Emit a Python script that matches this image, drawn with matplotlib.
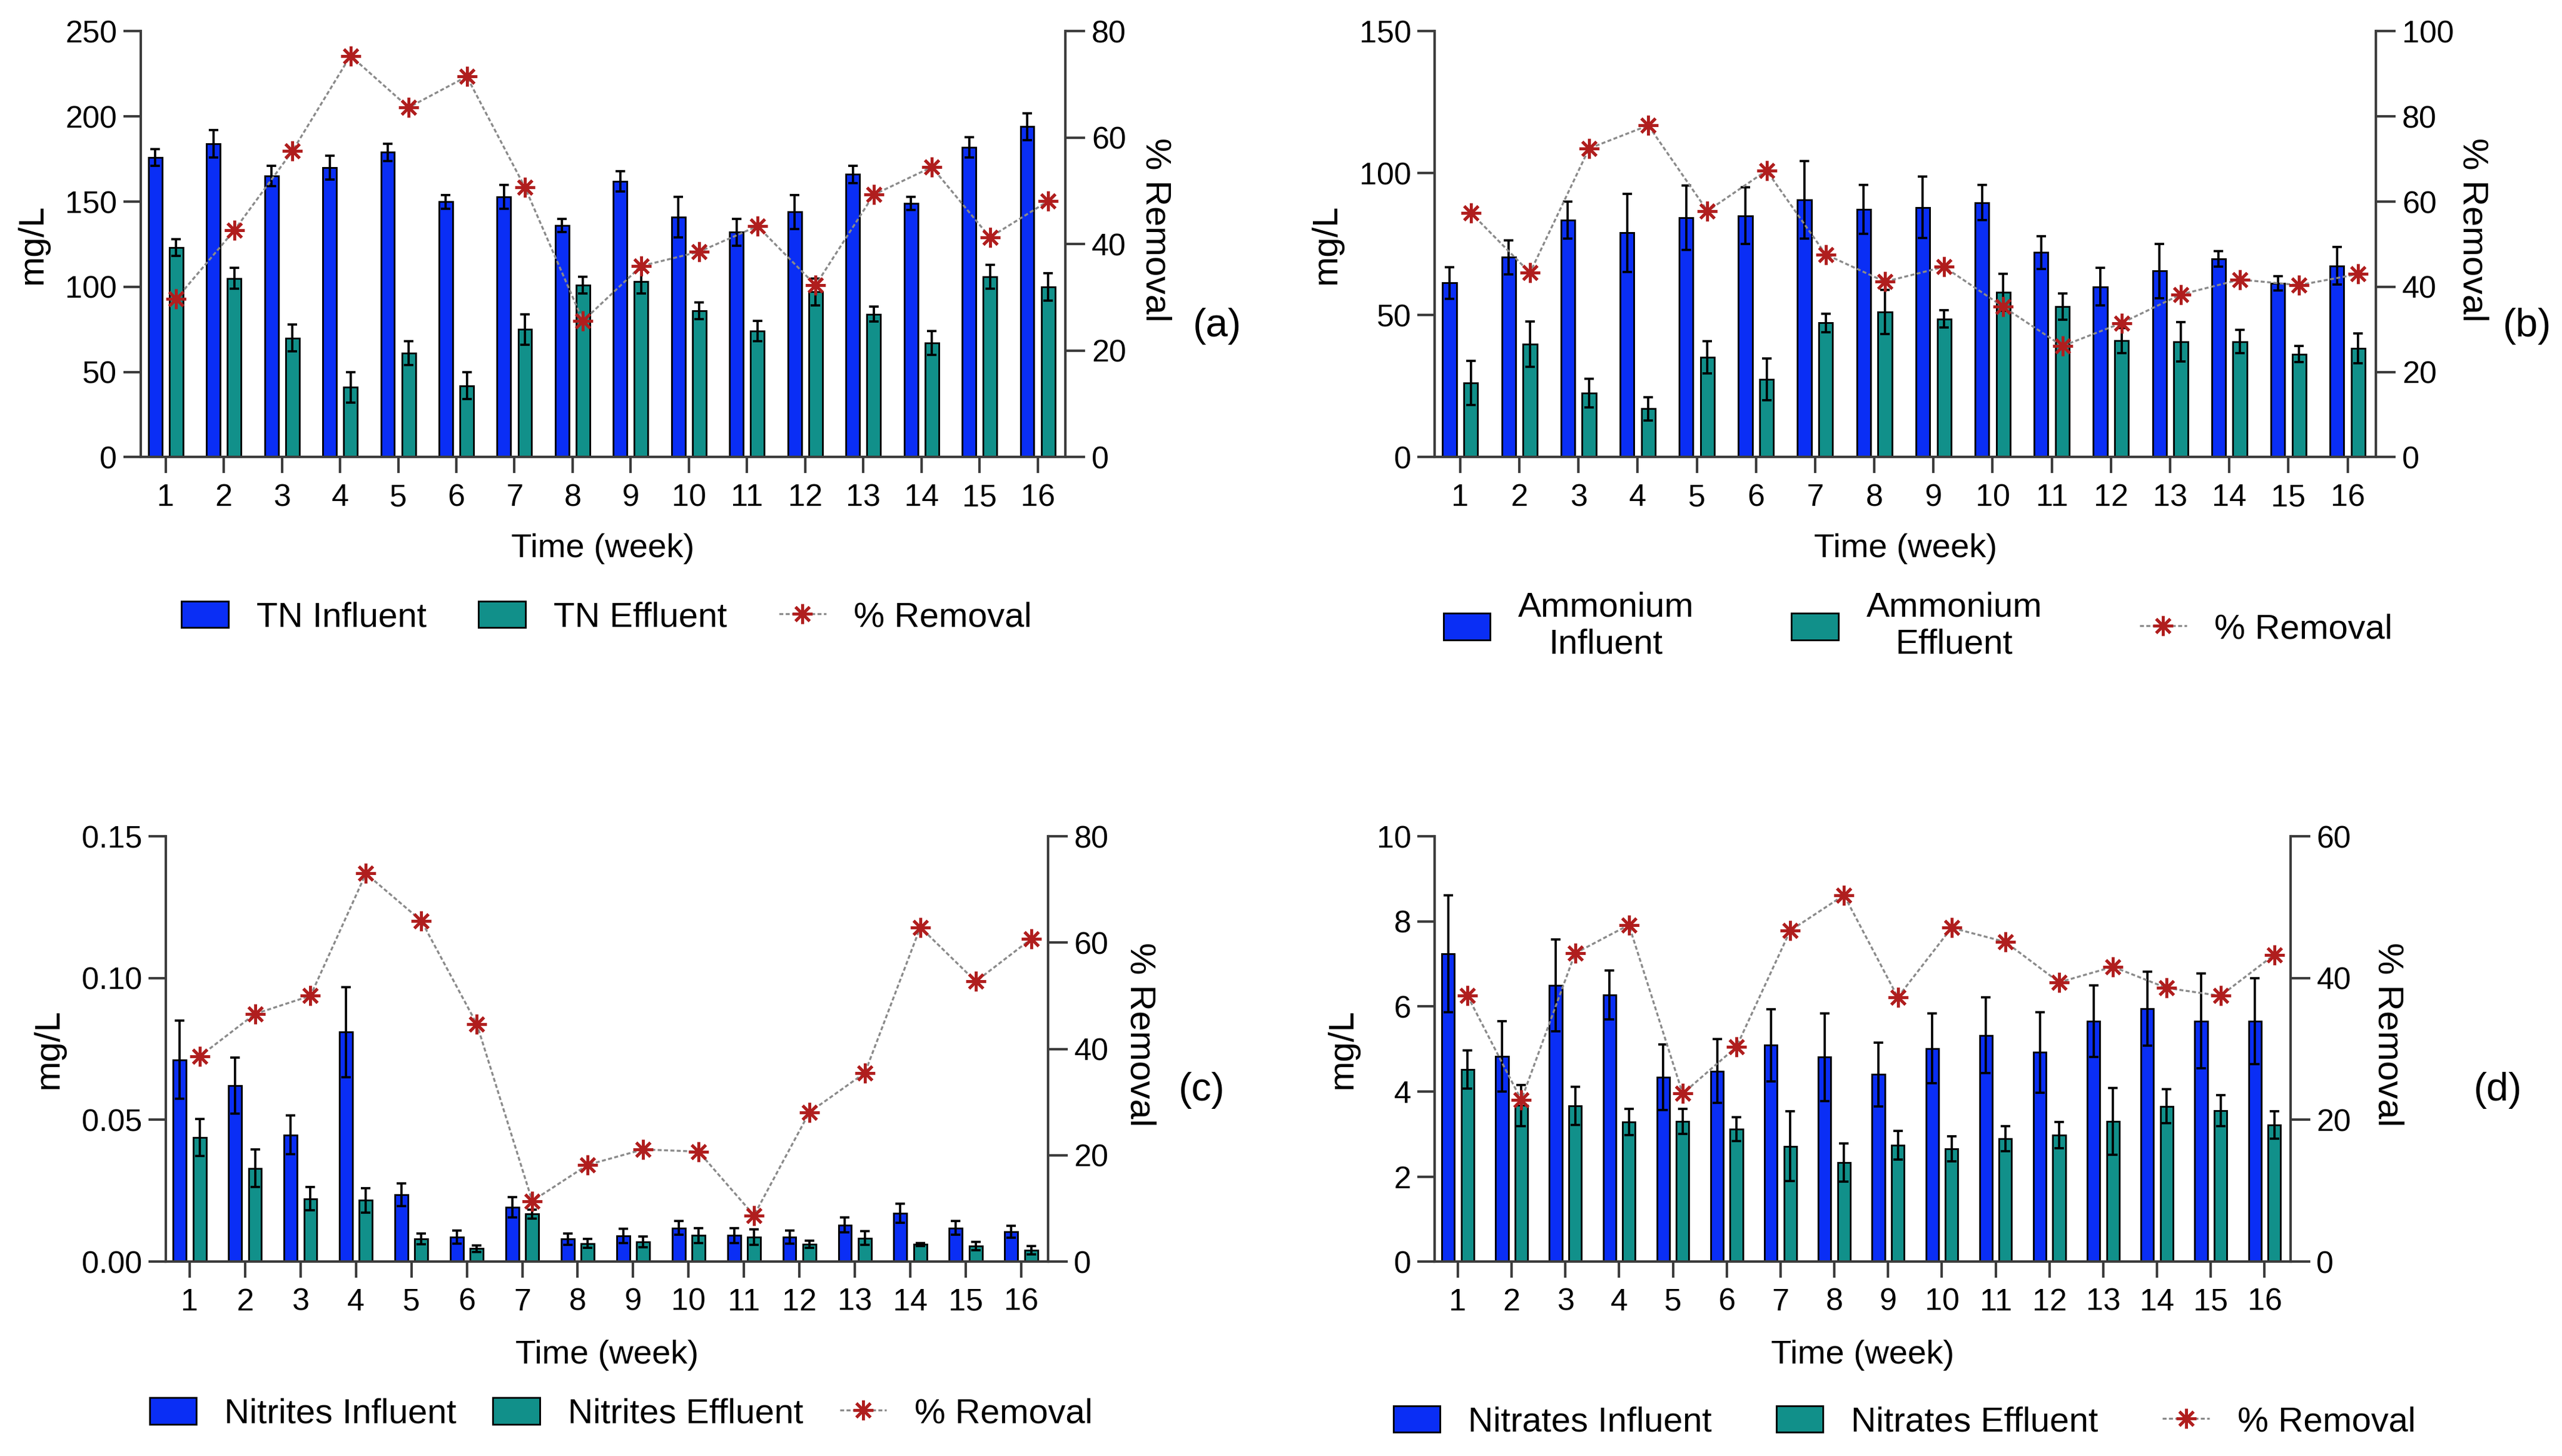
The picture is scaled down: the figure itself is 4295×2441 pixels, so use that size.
import numpy as np
import matplotlib.pyplot as plt

plt.rcParams['font.family'] = ['Liberation Sans', 'DejaVu Sans']

weeks = np.arange(1, 17)

# (a) total nitrogen, mg/L
tn_in = [176, 184, 165, 170, 179, 150, 153, 136, 162, 141, 132, 144, 166, 149, 182, 194]
tn_in_sd = [5, 8, 6, 7, 5, 4, 7, 4, 6, 12, 8, 10, 5, 4, 6, 8]
tn_eff = [123, 105, 70, 41, 61, 42, 75, 101, 103, 86, 74, 97, 84, 67, 106, 100]
tn_eff_sd = [5, 6, 8, 9, 7, 8, 9, 5, 7, 5, 6, 8, 4.5, 7, 7, 8]
tn_rem = [29.7, 42.6, 57.5, 75.4, 65.7, 71.5, 50.7, 25.6, 35.9, 38.6, 43.4, 32.3, 49.3, 54.5, 41.3, 48.1]

# (b) ammonium, mg/L
nh4_in = [61.4, 70.4, 83.5, 79, 84.4, 85, 90.7, 87.3, 88, 89.7, 72.1, 60, 65.6, 69.9, 61.2, 67.4]
nh4_in_sd = [5.6, 6, 6.5, 13.7, 11.3, 10, 13.7, 8.7, 10.8, 6.2, 5.8, 6.6, 9.6, 2.7, 2.5, 6.6]
nh4_eff = [26.1, 39.8, 22.6, 17.1, 35.2, 27.4, 47.3, 51.2, 48.7, 58, 53.1, 41, 40.6, 40.7, 36.3, 38.3]
nh4_eff_sd = [7.8, 8, 5, 4.1, 5.7, 7.3, 3.3, 7.8, 3.1, 6.5, 4.6, 4.4, 6.9, 4.1, 2.9, 5.2]
nh4_rem = [57.4, 43.3, 72.5, 77.9, 57.8, 67.3, 47.6, 41.2, 44.7, 35.3, 26.1, 31.5, 38.2, 41.7, 40.4, 43.0]

# (c) nitrites, mg/L
no2_in = [0.0712, 0.0621, 0.0447, 0.0810, 0.0236, 0.0086, 0.0191, 0.0080,
          0.0090, 0.0119, 0.0092, 0.0086, 0.0129, 0.0170, 0.0119, 0.0106]
no2_in_sd = [0.0138, 0.0098, 0.0069, 0.0159, 0.0040, 0.0023, 0.0036, 0.0020,
             0.0025, 0.0025, 0.0027, 0.0023, 0.0026, 0.0034, 0.0025, 0.0021]
no2_eff = [0.0438, 0.0329, 0.0222, 0.0216, 0.0081, 0.0046, 0.0168, 0.0064,
           0.0070, 0.0092, 0.0086, 0.0061, 0.0083, 0.0061, 0.0055, 0.0040]
no2_eff_sd = [0.0066, 0.0066, 0.0041, 0.0043, 0.0019, 0.0012, 0.0016, 0.0016,
              0.0019, 0.0027, 0.0027, 0.0012, 0.0024, 0.0005, 0.0014, 0.0014]
no2_rem = [38.6, 46.6, 50.0, 73.0, 64.1, 44.7, 11.4, 18.2, 21.1, 20.7, 8.7, 28.1, 35.5, 62.9, 52.7, 60.7]

# (d) nitrates, mg/L
no3_in = [7.24, 4.83, 6.50, 6.27, 4.33, 4.48, 5.09, 4.81, 4.40, 5.01, 5.32, 4.92, 5.65, 5.95, 5.66, 5.66]
no3_in_sd = [1.38, 0.83, 1.08, 0.57, 0.77, 0.75, 0.85, 1.03, 0.75, 0.82, 0.89, 0.95, 0.84, 0.87, 1.11, 1.01]
no3_eff = [4.52, 3.67, 3.66, 3.28, 3.30, 3.11, 2.71, 2.33, 2.74, 2.65, 2.89, 2.97, 3.30, 3.65, 3.55, 3.21]
no3_eff_sd = [0.45, 0.49, 0.45, 0.31, 0.29, 0.28, 0.82, 0.45, 0.34, 0.29, 0.29, 0.31, 0.79, 0.40, 0.36, 0.32]
no3_rem = [37.5, 22.8, 43.5, 47.5, 23.7, 30.3, 46.7, 51.7, 37.3, 47.1, 45.1, 39.4, 41.6, 38.6, 37.5, 43.3]

BLUE = '#0a2ef5'
TEAL = '#11908a'
RED = '#b01e1e'
AXC = '#3c3c3c'

fig = plt.figure(figsize=(4295 / 300, 2441 / 300), dpi=300)


def panel(rect, inf, inf_sd, eff, eff_sd, rem, ylim, rlim, fmt, names,
          letter, letter_xy, ylab_x, rlab_x, xlab_y, leg_xy, colsp):
    ax = fig.add_axes(rect)
    w, off = 0.235, 0.18
    ax.bar(weeks - off, inf, w, color=BLUE, edgecolor='black', linewidth=0.7,
           label=names[0], zorder=2)
    ax.errorbar(weeks - off, inf, yerr=inf_sd, fmt='none', ecolor='black',
                elinewidth=0.9, capsize=2, capthick=0.9, zorder=3)
    ax.bar(weeks + off, eff, w, color=TEAL, edgecolor='black', linewidth=0.7,
           label=names[1], zorder=2)
    ax.errorbar(weeks + off, eff, yerr=eff_sd, fmt='none', ecolor='black',
                elinewidth=0.9, capsize=2, capthick=0.9, zorder=3)

    ax.set_xlim(0.57, 16.48)
    ax.set_ylim(0, ylim[-1])
    ax.set_xticks(weeks)
    ax.set_yticks(ylim)
    ax.set_yticklabels([fmt.format(v) for v in ylim])
    for s in ['top', 'right']:
        ax.spines[s].set_visible(False)
    for s in ['left', 'bottom']:
        ax.spines[s].set_color(AXC)
        ax.spines[s].set_linewidth(1.0)
    ax.tick_params(axis='x', length=6.5, width=1, color=AXC, pad=4, labelsize=12.5)
    ax.tick_params(axis='y', length=7, width=1, color=AXC, pad=2.5, labelsize=12.5)

    ax2 = ax.twinx()
    ax2.plot(weeks + off, rem, color='#8a8a8a', lw=0.8, ls=(0, (2, 1.2)),
             marker=(8, 2, 0), ms=8, mec=RED, mfc=RED, mew=1.2,
             label='% Removal', clip_on=False)
    ax2.set_ylim(0, rlim[-1])
    ax2.set_yticks(rlim)
    for s in ['top', 'left', 'bottom']:
        ax2.spines[s].set_visible(False)
    ax2.spines['right'].set_color(AXC)
    ax2.spines['right'].set_linewidth(1.0)
    ax2.tick_params(axis='y', length=8, width=1, color=AXC, pad=2.5, labelsize=12.5)

    cy = rect[1] + rect[3] / 2
    cx = rect[0] + rect[2] / 2
    fig.text(ylab_x, cy, 'mg/L', rotation=90, ha='center', va='center', fontsize=14.5)
    fig.text(rlab_x, cy + 0.01, '% Removal', rotation=270, ha='center', va='center', fontsize=14.5)
    fig.text(cx, xlab_y, 'Time (week)', ha='center', va='center', fontsize=13.5)
    fig.text(letter_xy[0], letter_xy[1], letter, ha='center', va='center', fontsize=16)

    h1, l1 = ax.get_legend_handles_labels()
    h2, l2 = ax2.get_legend_handles_labels()
    leg = fig.legend(h1 + h2, l1 + l2, loc='center', bbox_to_anchor=leg_xy, ncol=3,
                     frameon=False, fontsize=14, handlelength=1.35, handleheight=0.8,
                     handletextpad=0.8, columnspacing=colsp)
    for t in leg.get_texts():
        t.set_multialignment('center')
    return ax, ax2


panel([0.0549, 0.686, 0.361, 0.2925], tn_in, tn_in_sd, tn_eff, tn_eff_sd, tn_rem,
      [0, 50, 100, 150, 200, 250], [0, 20, 40, 60, 80], '{:.0f}',
      ['TN Influent', 'TN Effluent'], '(a)', (0.475, 0.776),
      0.0128, 0.451, 0.623, (0.2368, 0.576), 1.5)

panel([0.560, 0.686, 0.3674, 0.2925], nh4_in, nh4_in_sd, nh4_eff, nh4_eff_sd, nh4_rem,
      [0, 50, 100, 150], [0, 20, 40, 60, 80, 100], '{:.0f}',
      ['Ammonium\nInfluent', 'Ammonium\nEffluent'], '(b)', (0.9865, 0.776),
      0.5176, 0.965, 0.623, (0.7486, 0.570), 2.8)

panel([0.0647, 0.1335, 0.3443, 0.2921], no2_in, no2_in_sd, no2_eff, no2_eff_sd, no2_rem,
      [0.0, 0.05, 0.10, 0.15], [0, 20, 40, 60, 80], '{:.2f}',
      ['Nitrites Influent', 'Nitrites Effluent'], '(c)', (0.469, 0.251),
      0.019, 0.445, 0.0692, (0.2424, 0.029), 1.05)

panel([0.560, 0.1335, 0.334, 0.2921], no3_in, no3_in_sd, no3_eff, no3_eff_sd, no3_rem,
      [0, 2, 4, 6, 8, 10], [0, 20, 40, 60], '{:.0f}',
      ['Nitrates Influent', 'Nitrates Effluent'], '(d)', (0.975, 0.251),
      0.524, 0.932, 0.0692, (0.7433, 0.0233), 1.85)

fig.savefig('out.png', dpi=300)
